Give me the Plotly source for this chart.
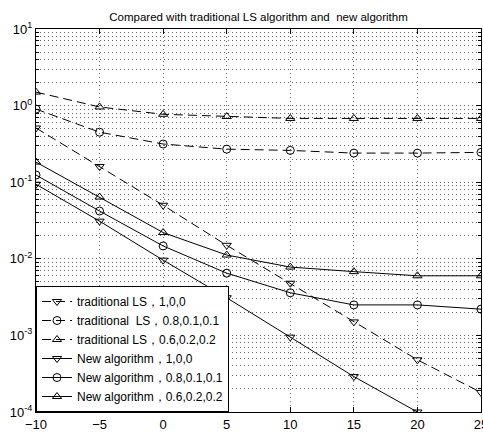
import plotly.graph_objects as go

x = [-10, -5, 0, 5, 10, 15, 20, 25]

trad_100 = [0.51, 0.16, 0.05, 0.0150, 0.0048, 0.0015, 0.00048, 0.00018]
trad_811 = [0.90, 0.45, 0.315, 0.27, 0.26, 0.24, 0.24, 0.245]
trad_622 = [1.50, 0.96, 0.77, 0.72, 0.68, 0.68, 0.68, 0.68]
new_100 = [0.094, 0.031, 0.0096, 0.0031, 0.00095, 0.00029, 0.0001]
new_811 = [0.124, 0.042, 0.0147, 0.0065, 0.0036, 0.0025, 0.0025, 0.0022]
new_622 = [0.183, 0.064, 0.022, 0.0112, 0.0078, 0.0068, 0.0060, 0.0060]

names = ["traditional LS，1,0,0", "traditional  LS，0.8,0.1,0.1", "traditional LS，0.6,0.2,0.2",
         "New algorithm，1,0,0", "New algorithm，0.8,0.1,0.1", "New algorithm，0.6,0.2,0.2"]

ytick_vals = [1e-4, 1e-3, 1e-2, 1e-1, 1e0, 1e1]
ytick_text = ["10<sup>-4</sup>", "10<sup>-3</sup>", "10<sup>-2</sup>", "10<sup>-1</sup>", "10<sup>0</sup>", "10<sup>1</sup>"]
xtick_vals = [-10, -5, 0, 5, 10, 15, 20, 25]

series = [
    (trad_100, "triangle-down-open", "9px,5px"),
    (trad_811, "circle-open", "9px,5px"),
    (trad_622, "triangle-up-open", "9px,5px"),
    (new_100, "triangle-down-open", "solid"),
    (new_811, "circle-open", "solid"),
    (new_622, "triangle-up-open", "solid"),
]

fig = go.Figure()
for (ys, sym, dash), nm in zip(series, names):
    fig.add_trace(go.Scatter(
        x=x[:len(ys)], y=ys, name=nm, mode="lines+markers",
        line=dict(color="black", width=1, dash=dash),
        marker=dict(symbol=sym, size=8, color="black", line=dict(color="black", width=1)),
    ))

grid = "#666666"
fig.update_layout(
    width=483, height=435,
    template="none",
    paper_bgcolor="white", plot_bgcolor="white",
    margin=dict(l=36, r=2, t=29, b=23, autoexpand=False),
    font=dict(family="Liberation Sans, Arial, sans-serif", size=13, color="black"),
    title=dict(text="Compared with traditional LS algorithm and  new algorithm",
               x=0.5, xref="paper", xanchor="center", y=1, yref="paper", yanchor="bottom",
               pad=dict(b=8), font=dict(size=11.5)),
    showlegend=True,
    legend=dict(x=0, y=0, xanchor="left", yanchor="bottom", bgcolor="white",
                bordercolor="black", borderwidth=1, font=dict(size=12),
                tracegroupgap=0, itemwidth=30),
)
fig.update_xaxes(
    range=[-10, 25], tickvals=xtick_vals, ticks="inside", ticklen=5, tickcolor="black",
    showline=True, linecolor="black", linewidth=1, mirror="ticks",
    showgrid=True, gridcolor=grid, griddash="1px,3px", gridwidth=1,
    zeroline=False, automargin=False, tickfont=dict(size=13),
    ticklabeloverflow="allow",
)
fig.update_yaxes(
    type="log", range=[-4, 1], tickvals=ytick_vals, ticktext=ytick_text,
    ticks="inside", ticklen=5, tickcolor="black",
    showline=True, linecolor="black", linewidth=1, mirror="ticks",
    showgrid=True, gridcolor=grid, griddash="1px,3px", gridwidth=1,
    minor=dict(dtick="D1", ticks="inside", ticklen=3, tickcolor="black",
               showgrid=True, gridcolor=grid, griddash="1px,3px", gridwidth=1),
    zeroline=False, automargin=False, tickfont=dict(size=13),
    ticklabeloverflow="allow",
)

fig.write_html("out.html")
